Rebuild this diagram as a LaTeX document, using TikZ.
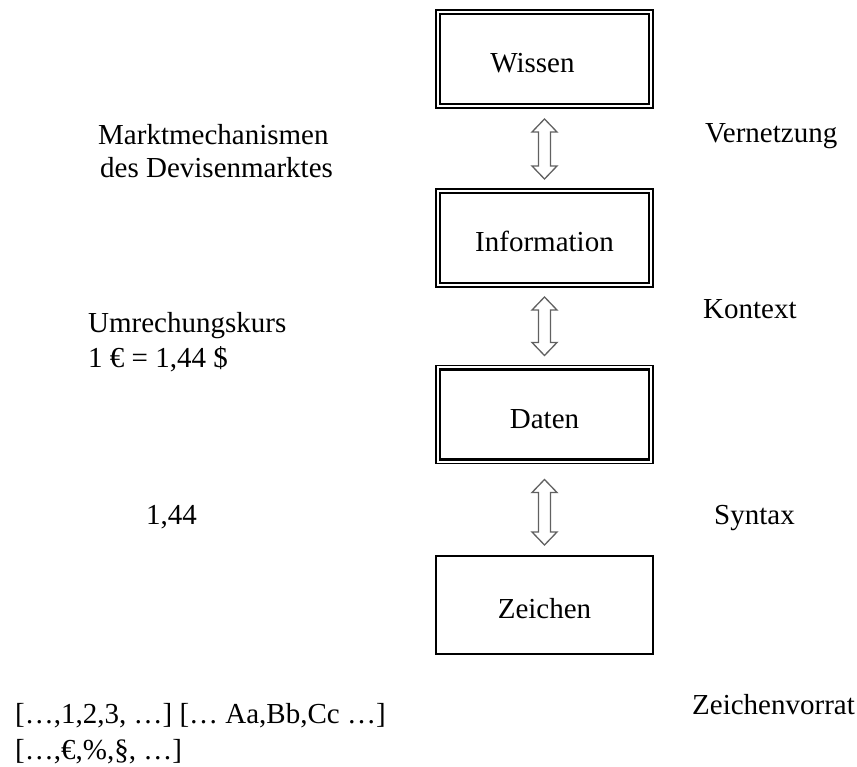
\documentclass[tikz,border=0pt]{standalone}
\usepackage{fontspec}
\setmainfont{Liberation Serif}
\usetikzlibrary{calc}

\tikzset{
  lbl/.style={anchor=base west, inner sep=0pt,
    font=\fontsize{29}{34}\selectfont},
  boxbase/.style={minimum width=217pt, minimum height=98pt, inner sep=0pt,
    outer sep=0pt, text height=27pt, text depth=0pt,
    font=\fontsize{29}{34}\selectfont},
  plainbox/.style={boxbase, draw, line width=1.4pt},
  dblbox/.style={boxbase, draw, line width=1.2pt,
    path picture={\draw[line width=2.6pt]
      ([shift={(4pt,-4pt)}]path picture bounding box.north west) rectangle
      ([shift={(-4pt,4pt)}]path picture bounding box.south east);}},
  barrow/.style={draw=black!62, line width=1.3pt, fill=white, line join=miter},
}

% hollow double-headed block arrow between two stacked boxes
% #1 upper node, #2 lower node, #3 gap below #1, #4 gap above #2
\newcommand{\hollowarrow}[4]{%
  \draw[barrow] let \p1=($(#1.south)+(0,-#3)$), \p2=($(#2.north)+(0,#4)$) in
    (\x1,\y1) -- (\x1+12.5pt,\y1-13pt) -- (\x1+6pt,\y1-13pt)
    -- (\x1+6pt,\y2+13pt) -- (\x1+12.5pt,\y2+13pt) -- (\x1,\y2)
    -- (\x1-12.5pt,\y2+13pt) -- (\x1-6pt,\y2+13pt)
    -- (\x1-6pt,\y1-13pt) -- (\x1-12.5pt,\y1-13pt) -- cycle;}

\begin{document}
\begin{tikzpicture}[x=1pt, y=-1pt]
  \useasboundingbox (0,0) rectangle (857,767);

  % the four levels
  \node[dblbox]   (wissen) at (544.5,59)  {Wissen\hspace*{24pt}};
  \node[dblbox]   (info)   at (544.5,238) {Information};
  \node[dblbox]   (daten)  at (544.5,414.5) {Daten};
  \node[plainbox] (zeich)  at (544.5,605) {Zeichen};

  % transitions between the levels
  \hollowarrow{wissen}{info}{11pt}{10pt}
  \hollowarrow{info}{daten}{10pt}{10pt}
  \hollowarrow{daten}{zeich}{16pt}{11pt}

  % examples on the left (one node per line, placed by baseline)
  \node[lbl] (bsp1a) at (98,145)  {Marktmechanismen};
  \node[lbl] (bsp1b) at (100,178) {des Devisenmarktes};
  \node[lbl] (bsp2a) at (88,333)  {Umrechungskurs};
  \node[lbl] (bsp2b) at (88,367)  {1 € = 1,44 \$};
  \node[lbl] (bsp3)  at (146,524) {1,44};
  \node[lbl] (bsp4a) at (15,723)  {[…,1,2,3, …] [… Aa,Bb,Cc …]};
  \node[lbl] (bsp4b) at (15,759)  {[…,€,\%,§, …]};

  % what is added at each step
  \node[lbl] (r1) at (705,143) {Vernetzung};
  \node[lbl] (r2) at (703,319) {Kontext};
  \node[lbl] (r3) at (714,524) {Syntax};
  \node[lbl] (r4) at (692,714) {Zeichenvorrat};
\end{tikzpicture}
\end{document}
